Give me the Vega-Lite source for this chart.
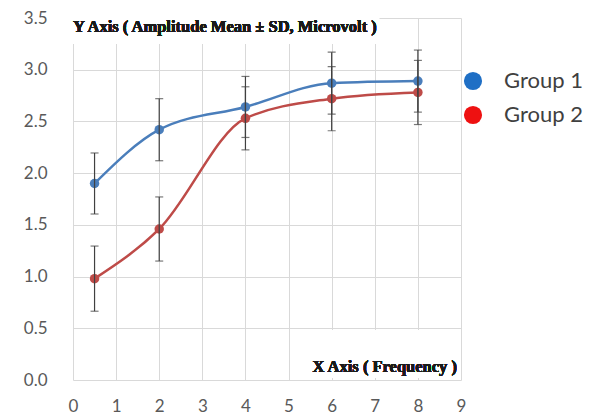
{
  "$schema": "https://vega.github.io/schema/vega-lite/v6.json",
  "autosize": "none",
  "width": 388,
  "height": 362,
  "padding": {"left": 73, "top": 18, "right": 131, "bottom": 37},
  "background": "white",
  "config": {
    "view": {"stroke": null},
    "axis": {
      "grid": true, "gridColor": "#d9d9d9", "gridWidth": 1,
      "domain": false, "ticks": false,
      "labelFont": "Lato", "labelFontSize": 17, "labelColor": "#595959",
      "title": null
    }
  },
  "data": {
    "values": [
      {"freq": 0.5, "group": "Group 1", "mean": 1.90, "sd": 0.295},
      {"freq": 2, "group": "Group 1", "mean": 2.42, "sd": 0.30},
      {"freq": 4, "group": "Group 1", "mean": 2.64, "sd": 0.295},
      {"freq": 6, "group": "Group 1", "mean": 2.87, "sd": 0.30},
      {"freq": 8, "group": "Group 1", "mean": 2.89, "sd": 0.30},
      {"freq": 0.5, "group": "Group 2", "mean": 0.98, "sd": 0.315},
      {"freq": 2, "group": "Group 2", "mean": 1.46, "sd": 0.31},
      {"freq": 4, "group": "Group 2", "mean": 2.53, "sd": 0.305},
      {"freq": 6, "group": "Group 2", "mean": 2.72, "sd": 0.31},
      {"freq": 8, "group": "Group 2", "mean": 2.78, "sd": 0.31}
    ]
  },
  "transform": [
    {"calculate": "datum.mean + datum.sd", "as": "hi"},
    {"calculate": "datum.mean - datum.sd", "as": "lo"},
    {"calculate": "datum.group", "as": "legendGroup"}
  ],
  "encoding": {
    "x": {"field": "freq", "type": "quantitative",
      "scale": {"domain": [0, 9], "nice": false},
      "axis": {"values": [0,1,2,3,4,5,6,7,8,9], "labelPadding": 18, "labelFlush": false}},
    "y": {"type": "quantitative",
      "scale": {"domain": [0, 3.5], "nice": false},
      "axis": {"values": [0,0.5,1,1.5,2,2.5,3,3.5], "format": ".1f", "labelPadding": 26, "labelFlush": false}}
  },
  "resolve": {"scale": {"color": "independent"}, "legend": {"color": "independent"}},
  "layer": [
    {
      "mark": {"type": "rect", "fill": "white"},
      "encoding": {
        "x": {"datum": 0}, "x2": {"datum": 7.1},
        "y": {"datum": 3.25}, "y2": {"datum": 3.5}
      }
    },
    {
      "mark": {"type": "rect", "fill": "white"},
      "encoding": {
        "x": {"datum": 5.08}, "x2": {"datum": 8.97},
        "y": {"datum": 0.02}, "y2": {"datum": 0.48}
      }
    },
    {
      "layer": [
        {
          "mark": {"type": "line", "interpolate": "monotone", "strokeWidth": 2.5},
          "encoding": {
            "y": {"field": "mean", "type": "quantitative"},
            "color": {"field": "group", "type": "nominal",
              "scale": {"domain": ["Group 1", "Group 2"], "range": ["#4a7ebb", "#be4b48"]},
              "legend": null}
          }
        },
        {
          "mark": {"type": "point", "filled": true, "opacity": 1, "size": 90},
          "encoding": {
            "y": {"field": "mean", "type": "quantitative"},
            "color": {"field": "group", "type": "nominal", "legend": null}
          }
        }
      ]
    },
    {
      "mark": {"type": "rule", "color": "#404040", "strokeWidth": 1.2},
      "encoding": {
        "y": {"field": "lo", "type": "quantitative"},
        "y2": {"field": "hi"}
      }
    },
    {
      "mark": {"type": "tick", "orient": "horizontal", "color": "#404040", "size": 8, "thickness": 1.2},
      "encoding": {"y": {"field": "hi", "type": "quantitative"}}
    },
    {
      "mark": {"type": "tick", "orient": "horizontal", "color": "#404040", "size": 8, "thickness": 1.2},
      "encoding": {"y": {"field": "lo", "type": "quantitative"}}
    },
    {
      "mark": {"type": "point", "filled": true, "size": 0},
      "encoding": {
        "y": {"field": "mean", "type": "quantitative"},
        "color": {"field": "legendGroup", "type": "nominal",
          "scale": {"domain": ["Group 1", "Group 2"], "range": ["#1f6fc5", "#ee1111"]},
          "legend": {"title": null, "orient": "none", "legendX": 389, "legendY": 52,
            "symbolType": "circle", "symbolSize": 330, "symbolOpacity": 1, "symbolStrokeWidth": 0,
            "labelFont": "Lato", "labelFontSize": 22, "labelColor": "#404040",
            "labelOffset": 20, "rowPadding": 12}}
      }
    },
    {
      "mark": {"type": "text", "text": "Y Axis ( Amplitude Mean ± SD, Microvolt )",
        "font": "Liberation Serif", "fontWeight": "bold", "fontSize": 16.5, "color": "#1a1a1a",
        "align": "left", "baseline": "alphabetic", "dy": 14},
      "encoding": {"x": {"datum": 0}, "y": {"datum": 3.5}}
    },
    {
      "mark": {"type": "text", "text": "X Axis ( Frequency )",
        "font": "Liberation Serif", "fontWeight": "bold", "fontSize": 16.5, "color": "#1a1a1a",
        "align": "right", "baseline": "alphabetic", "dx": -4, "dy": -8},
      "encoding": {"x": {"datum": 9}, "y": {"datum": 0}}
    }
  ]
}
